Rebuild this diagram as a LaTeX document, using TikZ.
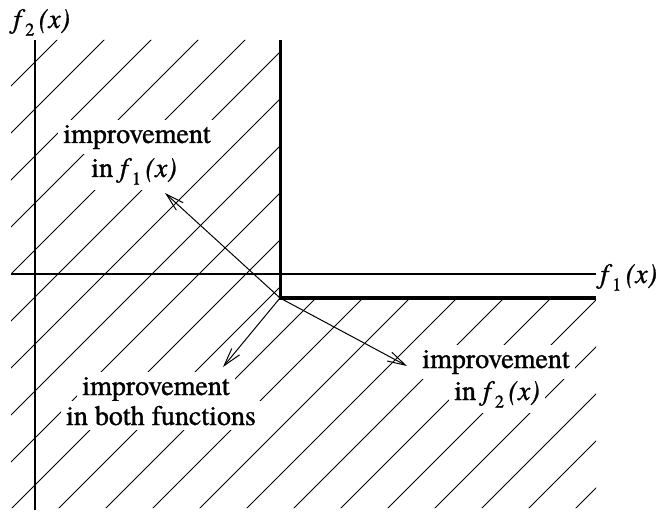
\documentclass[tikz,border=0pt]{standalone}
\usepackage{fontspec}
\newfontfamily\timesfont{texgyretermes}[Extension=.otf,UprightFont=*-regular,ItalicFont=*-italic,BoldFont=*-bold,FakeBold=1]
\usetikzlibrary{arrows.meta,positioning}
\newcommand{\fofx}[1]{\textit{f}\raisebox{-0.6ex}{\small #1}\,\textit{(x)}}

\begin{document}
\begin{tikzpicture}[x=0.5pt,y=-0.5pt,
  lbl/.style={fill=white,inner sep=2.5pt,font=\timesfont\fontsize{14}{16}\selectfont},
  axis/.style={line width=0.6pt},
  hatch/.style={line width=0.5pt},
  imp/.style={-{Straight Barb[length=9pt,width=5pt]},line width=0.5pt}]
\useasboundingbox (0,0) rectangle (656,512);

\coordinate (o) at (280,298);
\coordinate (top) at (280,40);
\coordinate (right) at (596,298);
\coordinate (xl) at (11,274);
\coordinate (xr) at (596,274);
\coordinate (yt) at (35,40);
\coordinate (yb) at (35,510);

\begin{scope}
\clip (11,40) -- (top) -- (o) -- (right) -- (596,508) -- (11,508) -- cycle;
\foreach \k in {2,...,23}
  \draw[hatch] ({3+47*\k-520},520) -- ({3+47*\k-30},30);
\end{scope}

\draw[axis] (xl) -- (xr);
\draw[axis] (yt) -- (yb);
\draw[line width=1.5pt] (top) -- (o) -- (right);

\node[lbl,anchor=base] (a1) at (137,143) {improvement};
\node[lbl,anchor=base] (a2) at (134,177) {in \fofx{1}};
\node[lbl,anchor=base] (b1) at (156,395) {improvement};
\node[lbl,anchor=base] (b2) at (161,425) {in both functions};
\node[lbl,anchor=base] (c1) at (496,368) {improvement};
\node[lbl,anchor=base] (c2) at (497,400) {in \fofx{2}};

\node[lbl,fill=none,inner sep=0pt,anchor=base west] (f2) at (13,28) {\fofx{2}};
\node[lbl,fill=none,inner sep=0pt,anchor=base west] (f1) at (600,283) {\fofx{1}};

\coordinate (ta) at (165,193);
\coordinate (tb) at (223,367);
\coordinate (tc) at (407,366);
\draw[imp] (o) -- (ta);
\draw[imp] (o) -- (tb);
\draw[imp] (o) -- (tc);
\end{tikzpicture}
\end{document}
